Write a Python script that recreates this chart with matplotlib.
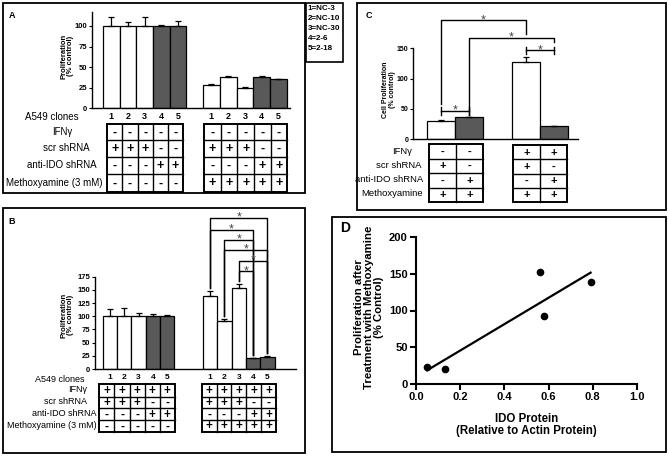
import matplotlib
matplotlib.use('Agg')
import matplotlib.pyplot as plt
import matplotlib.transforms as mtransforms
from matplotlib.patches import Rectangle
import numpy as np

plt.rcParams['font.family'] = ['Liberation Sans', 'DejaVu Sans']

W, H = 668, 457

# ---------------- values ----------------
clone_labels = ['1', '2', '3', '4', '5']
clone_names = ['1=NC-3', '2=NC-10', '3=NC-30', '4=2-6', '5=2-18']

# panel A: proliferation (% control), no IFNg
a_ctrl = [100, 100, 100, 100, 100]
a_ctrl_err = [11, 5, 11, 1.5, 6]
a_mx = [28, 38, 25, 38, 35]
a_mx_err = [1, 1, 0.5, 1, 0.5]

# panel B: proliferation (% control), with IFNg
b_ctrl = [100, 100, 100, 100, 100]
b_ctrl_err = [13, 15, 7, 5, 2]
b_mx = [138, 91, 153, 20, 23]
b_mx_err = [10, 3, 8, 1, 1]
# significance brackets in the methoxyamine group (clone index pairs)
b_sig_pairs = [(0, 4), (0, 3), (1, 3), (1, 4), (2, 4), (2, 3)]
b_sig_height = [287, 264, 245, 226, 205, 185]

# panel C: cell proliferation (% control)
c_vals = [30, 36, 127, 22]
c_err = [1.5, 1, 9, 0.5]

# panel D: IDO protein vs proliferation after methoxyamine
d_ido = [0.05, 0.13, 0.56, 0.58, 0.79]
d_prolif = [23, 20, 153, 92, 139]

# condition tables
ab_rows = ['IFNγ', 'scr shRNA', 'anti-IDO shRNA', 'Methoxyamine (3 mM)']
a_tab_ctrl = ['-----', '+++--', '---++', '-----']
a_tab_mx = ['-----', '+++--', '---++', '+++++']
b_tab_ctrl = ['+++++', '+++--', '---++', '-----']
b_tab_mx = ['+++++', '+++--', '---++', '+++++']
c_rows = ['IFNγ', 'scr shRNA', 'anti-IDO shRNA', 'Methoxyamine']
c_tab_left = ['--', '+-', '-+', '++']
c_tab_right = ['++', '+-', '-+', '++']

WHITE = 'white'
GREY = '#595959'


def rect(x0, y0, x1, y1):
    return [x0 / W, 1 - y1 / H, (x1 - x0) / W, (y1 - y0) / H]


fig = plt.figure(figsize=(W / 100, H / 100), dpi=100)
ov = fig.add_axes([0, 0, 1, 1])
ov.set_xlim(0, W)
ov.set_ylim(H, 0)
ov.axis('off')


def frame(x0, y0, x1, y1, lw=1.3):
    ov.add_patch(Rectangle((x0, y0), x1 - x0, y1 - y0, fill=False, ec='black', lw=lw))


def grid_table(x0, x1, ys, cells, fs):
    ncol = len(cells[0])
    xs = np.linspace(x0, x1, ncol + 1)
    frame(x0, ys[0], x1, ys[-1], lw=1.4)
    for x in xs[1:-1]:
        ov.plot([x, x], [ys[0], ys[-1]], color='black', lw=1)
    for y in ys[1:-1]:
        ov.plot([x0, x1], [y, y], color='black', lw=1)
    for r, row in enumerate(cells):
        for c, ch in enumerate(row):
            ov.text((xs[c] + xs[c + 1]) / 2, (ys[r] + ys[r + 1]) / 2 + 0.5, ch,
                    ha='center', va='center', fontsize=fs, fontweight='bold')


def row_labels(labels, xr, ys, fs):
    for lab, x, y in zip(labels, xr, ys):
        ov.text(x, y, lab, ha='right', va='center', fontsize=fs)


def bar_panel(box_px, pos, vals, errs, ylim, yticks, xlim, colors):
    ax = fig.add_axes(rect(*box_px))
    ax.patch.set_alpha(0)
    ax.bar(pos, vals, width=1.0, color=colors, edgecolor='black', linewidth=0.9, zorder=2)
    ax.errorbar(pos, vals, yerr=[np.zeros(len(vals)), errs], fmt='none', ecolor='black',
                elinewidth=0.9, capsize=2.5, capthick=0.9, zorder=3)
    ax.set_xlim(*xlim)
    ax.set_ylim(*ylim)
    for s in ['top', 'right']:
        ax.spines[s].set_visible(False)
    for s in ['left', 'bottom']:
        ax.spines[s].set_linewidth(1.0)
    ax.set_yticks(yticks, labels=[str(t) for t in yticks], fontsize=5.5, fontweight='bold')
    ax.tick_params(axis='y', length=2.5, width=0.8, pad=0.8)
    return ax


def star(ax, x, y):
    tr = mtransforms.offset_copy(ax.transData, fig=fig, y=-2, units='points')
    ax.text(x, y, '*', ha='center', va='baseline', fontsize=9, color='#444444',
            transform=tr, clip_on=False)


colors5 = [WHITE, WHITE, WHITE, GREY, GREY]

# ---------------- panel A ----------------
frame(3, 3, 305, 193)
ov.text(12, 15, 'A', fontsize=6.5, fontweight='bold', ha='center', va='center')
posA = list(range(5)) + list(range(6, 11))
axA = bar_panel((92, 12, 290, 108.3), posA, a_ctrl + a_mx, a_ctrl_err + a_mx_err,
                (0, 117), [0, 25, 50, 75, 100], (-1.15, 10.7), colors5 * 2)
axA.set_xticks(posA, labels=clone_labels * 2, fontsize=6.5, fontweight='bold')
axA.tick_params(axis='x', length=0, pad=3)
ov.text(67, 56, 'Proliferation\n(% control)', rotation=90, ha='center', va='center',
        fontsize=5.5, fontweight='bold', multialignment='center', linespacing=1.0)
ov.text(52, 117, 'A549 clones', ha='center', va='center', fontsize=7)
row_labels(ab_rows, [72, 90, 97, 102], [132, 148, 165, 183], 7)
ysA = [124, 140, 156.7, 174, 191.7]
grid_table(107.3, 183, ysA, a_tab_ctrl, 9)
grid_table(204, 287.3, ysA, a_tab_mx, 9)

# legend box
frame(306, 3, 343, 62, lw=1.2)
for name, y in zip(clone_names, [9, 19, 28.5, 38, 48]):
    ov.text(307.5, y, name, ha='left', va='center', fontsize=5.8, fontweight='bold')

# ---------------- panel B ----------------
frame(3, 208, 305, 453)
ov.text(12, 222, 'B', fontsize=6.5, fontweight='bold', ha='center', va='center')
posB = list(range(5)) + list(range(7, 12))
axB = bar_panel((95, 276.7, 296, 369), posB, b_ctrl + b_mx, b_ctrl_err + b_mx_err,
                (0, 175), [0, 25, 50, 75, 100, 125, 150, 175], (-1.04, 13.0), colors5 * 2)
axB.set_xticks(posB, labels=clone_labels * 2, fontsize=6, fontweight='bold')
axB.tick_params(axis='x', length=0, pad=3.5)
for (i, j), yl in zip(b_sig_pairs, b_sig_height):
    xi, xj = posB[5 + i], posB[5 + j]
    bi = b_mx[i] + b_mx_err[i] + 6
    bj = b_mx[j] + b_mx_err[j] + 6
    axB.plot([xi, xi, xj, xj], [bi, yl, yl, bj], color='black', lw=1, clip_on=False)
    star(axB, (xi + xj) / 2, yl)
ov.text(67, 315, 'Proliferation\n(% control)', rotation=90, ha='center', va='center',
        fontsize=5.5, fontweight='bold', multialignment='center', linespacing=1.0)
ov.text(60, 379, 'A549 clones', ha='center', va='center', fontsize=6.5)
row_labels(ab_rows, [87, 87, 97, 97], [390, 402, 414, 426], 6.5)
ysB = [384.3, 396.7, 408.3, 420, 431.7]
grid_table(99.3, 175, ysB, b_tab_ctrl, 8.5)
grid_table(201.7, 276, ysB, b_tab_mx, 8.5)

# ---------------- panel C ----------------
frame(357, 3, 666, 210)
ov.text(369, 15, 'C', fontsize=6.5, fontweight='bold', ha='center', va='center')
posC = [0, 1, 3, 4]
axC = bar_panel((412.7, 48.3, 578, 139.3), posC, c_vals, c_err,
                (0, 150), [0, 50, 100, 150], (-1.01, 4.86), [WHITE, GREY, WHITE, GREY])
axC.set_yticks([0, 50, 100, 150], labels=['0', '50', '100', '150'], fontsize=5, fontweight='bold')
axC.tick_params(axis='y', pad=0.5)
axC.set_xticks([])
# brackets
axC.plot([0, 0, 3, 3], [59, 196, 196, 174], color='black', lw=1, clip_on=False)
star(axC, 1.5, 196)
axC.plot([1, 1, 4, 4], [40, 167.5, 167.5, 160], color='black', lw=1, clip_on=False)
star(axC, 2.5, 167.5)
for xa, xb, yl, tk in [(3, 4, 146.6, 5.5), (0, 1, 46.5, 6.5)]:
    axC.plot([xa, xb], [yl, yl], color='black', lw=1, clip_on=False)
    axC.plot([xa, xa], [yl - tk, yl + tk], color='black', lw=1, clip_on=False)
    axC.plot([xb, xb], [yl - tk, yl + tk], color='black', lw=1, clip_on=False)
    star(axC, (xa + xb) / 2, yl)
ov.text(389, 90, 'Cell Proliferation\n(% control)', rotation=90, ha='center', va='center',
        fontsize=5, fontweight='bold', multialignment='center', linespacing=1.0)
row_labels(c_rows, [412, 422, 423, 423], [151, 166, 180, 194], 6.8)
grid_table(429, 483, [144, 158.5, 173, 187.5, 201.5], c_tab_left, 8)
grid_table(512.7, 567.3, [145, 159.3, 173.5, 187.8, 202], c_tab_right, 8)

# ---------------- panel D ----------------
frame(332, 217, 666, 452)
ov.text(345, 228, 'D', fontsize=10, fontweight='bold', ha='center', va='center')
axD = fig.add_axes(rect(416, 237, 637, 384))
axD.patch.set_alpha(0)
axD.plot(d_ido, d_prolif, 'o', color='black', ms=4.5, clip_on=False)
coef = np.polyfit(d_ido, d_prolif, 1)
xx = np.array([min(d_ido), max(d_ido)])
axD.plot(xx, np.polyval(coef, xx), color='black', lw=1.6)
axD.set_xlim(0, 1.0)
axD.set_ylim(0, 200)
for s in ['top', 'right']:
    axD.spines[s].set_visible(False)
for s in ['left', 'bottom']:
    axD.spines[s].set_linewidth(1.5)
xt = [0.0, 0.2, 0.4, 0.6, 0.8, 1.0]
axD.set_xticks(xt, labels=['%.1f' % v for v in xt], fontsize=8, fontweight='bold')
yt = [0, 50, 100, 150, 200]
axD.set_yticks(yt, labels=[str(v) for v in yt], fontsize=8, fontweight='bold')
axD.tick_params(length=4, width=1.5, pad=2)
ov.text(526.5, 425, 'IDO Protein\n(Relative to Actin Protein)', ha='center', va='center',
        fontsize=8.3, fontweight='bold', multialignment='center', linespacing=1.1)
ov.text(369, 307, 'Proliferation after\nTreatment with Methoxyamine\n(% Control)',
        rotation=90, ha='center', va='center', fontsize=8.2, fontweight='bold',
        multialignment='center', linespacing=1.0)

fig.savefig('out.png', dpi=100)
